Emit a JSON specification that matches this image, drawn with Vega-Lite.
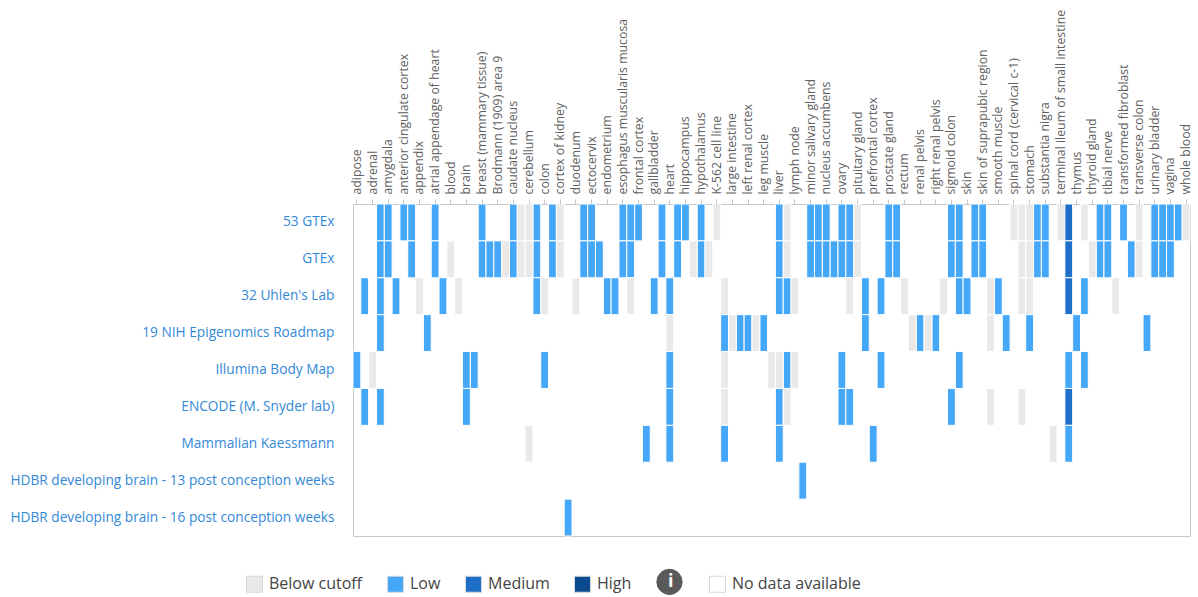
{
  "$schema": "https://vega.github.io/schema/vega-lite/v6.json",
  "autosize": {"type": "none"},
  "padding": {"left": 353, "top": 204, "right": 8, "bottom": 61},
  "width": 837,
  "height": 332,
  "background": "white",
  "config": {
    "font": "Open Sans",
    "view": {"stroke": "#c8c8c8", "strokeWidth": 1}
  },
  "data": {
    "values": [
      {"dataset": "53 GTEx", "col": 3, "level": "Low"},
      {"dataset": "53 GTEx", "col": 4, "level": "Low"},
      {"dataset": "53 GTEx", "col": 6, "level": "Low"},
      {"dataset": "53 GTEx", "col": 7, "level": "Low"},
      {"dataset": "53 GTEx", "col": 10, "level": "Low"},
      {"dataset": "53 GTEx", "col": 16, "level": "Low"},
      {"dataset": "53 GTEx", "col": 20, "level": "Low"},
      {"dataset": "53 GTEx", "col": 23, "level": "Low"},
      {"dataset": "53 GTEx", "col": 25, "level": "Low"},
      {"dataset": "53 GTEx", "col": 29, "level": "Low"},
      {"dataset": "53 GTEx", "col": 30, "level": "Low"},
      {"dataset": "53 GTEx", "col": 34, "level": "Low"},
      {"dataset": "53 GTEx", "col": 35, "level": "Low"},
      {"dataset": "53 GTEx", "col": 36, "level": "Low"},
      {"dataset": "53 GTEx", "col": 39, "level": "Low"},
      {"dataset": "53 GTEx", "col": 41, "level": "Low"},
      {"dataset": "53 GTEx", "col": 42, "level": "Low"},
      {"dataset": "53 GTEx", "col": 44, "level": "Low"},
      {"dataset": "53 GTEx", "col": 54, "level": "Low"},
      {"dataset": "53 GTEx", "col": 58, "level": "Low"},
      {"dataset": "53 GTEx", "col": 59, "level": "Low"},
      {"dataset": "53 GTEx", "col": 60, "level": "Low"},
      {"dataset": "53 GTEx", "col": 62, "level": "Low"},
      {"dataset": "53 GTEx", "col": 63, "level": "Low"},
      {"dataset": "53 GTEx", "col": 68, "level": "Low"},
      {"dataset": "53 GTEx", "col": 69, "level": "Low"},
      {"dataset": "53 GTEx", "col": 76, "level": "Low"},
      {"dataset": "53 GTEx", "col": 77, "level": "Low"},
      {"dataset": "53 GTEx", "col": 79, "level": "Low"},
      {"dataset": "53 GTEx", "col": 80, "level": "Low"},
      {"dataset": "53 GTEx", "col": 87, "level": "Low"},
      {"dataset": "53 GTEx", "col": 88, "level": "Low"},
      {"dataset": "53 GTEx", "col": 95, "level": "Low"},
      {"dataset": "53 GTEx", "col": 96, "level": "Low"},
      {"dataset": "53 GTEx", "col": 98, "level": "Low"},
      {"dataset": "53 GTEx", "col": 102, "level": "Low"},
      {"dataset": "53 GTEx", "col": 103, "level": "Low"},
      {"dataset": "53 GTEx", "col": 104, "level": "Low"},
      {"dataset": "53 GTEx", "col": 105, "level": "Low"},
      {"dataset": "53 GTEx", "col": 21, "level": "Below cutoff"},
      {"dataset": "53 GTEx", "col": 22, "level": "Below cutoff"},
      {"dataset": "53 GTEx", "col": 26, "level": "Below cutoff"},
      {"dataset": "53 GTEx", "col": 46, "level": "Below cutoff"},
      {"dataset": "53 GTEx", "col": 55, "level": "Below cutoff"},
      {"dataset": "53 GTEx", "col": 64, "level": "Below cutoff"},
      {"dataset": "53 GTEx", "col": 84, "level": "Below cutoff"},
      {"dataset": "53 GTEx", "col": 85, "level": "Below cutoff"},
      {"dataset": "53 GTEx", "col": 86, "level": "Below cutoff"},
      {"dataset": "53 GTEx", "col": 90, "level": "Below cutoff"},
      {"dataset": "53 GTEx", "col": 93, "level": "Below cutoff"},
      {"dataset": "53 GTEx", "col": 100, "level": "Below cutoff"},
      {"dataset": "53 GTEx", "col": 106, "level": "Below cutoff"},
      {"dataset": "53 GTEx", "col": 91, "level": "Medium"},

      {"dataset": "GTEx", "col": 3, "level": "Low"},
      {"dataset": "GTEx", "col": 4, "level": "Low"},
      {"dataset": "GTEx", "col": 7, "level": "Low"},
      {"dataset": "GTEx", "col": 10, "level": "Low"},
      {"dataset": "GTEx", "col": 16, "level": "Low"},
      {"dataset": "GTEx", "col": 17, "level": "Low"},
      {"dataset": "GTEx", "col": 18, "level": "Low"},
      {"dataset": "GTEx", "col": 20, "level": "Low"},
      {"dataset": "GTEx", "col": 23, "level": "Low"},
      {"dataset": "GTEx", "col": 25, "level": "Low"},
      {"dataset": "GTEx", "col": 29, "level": "Low"},
      {"dataset": "GTEx", "col": 30, "level": "Low"},
      {"dataset": "GTEx", "col": 31, "level": "Low"},
      {"dataset": "GTEx", "col": 34, "level": "Low"},
      {"dataset": "GTEx", "col": 35, "level": "Low"},
      {"dataset": "GTEx", "col": 39, "level": "Low"},
      {"dataset": "GTEx", "col": 41, "level": "Low"},
      {"dataset": "GTEx", "col": 44, "level": "Low"},
      {"dataset": "GTEx", "col": 54, "level": "Low"},
      {"dataset": "GTEx", "col": 58, "level": "Low"},
      {"dataset": "GTEx", "col": 59, "level": "Low"},
      {"dataset": "GTEx", "col": 60, "level": "Low"},
      {"dataset": "GTEx", "col": 61, "level": "Low"},
      {"dataset": "GTEx", "col": 62, "level": "Low"},
      {"dataset": "GTEx", "col": 63, "level": "Low"},
      {"dataset": "GTEx", "col": 68, "level": "Low"},
      {"dataset": "GTEx", "col": 69, "level": "Low"},
      {"dataset": "GTEx", "col": 76, "level": "Low"},
      {"dataset": "GTEx", "col": 77, "level": "Low"},
      {"dataset": "GTEx", "col": 79, "level": "Low"},
      {"dataset": "GTEx", "col": 80, "level": "Low"},
      {"dataset": "GTEx", "col": 87, "level": "Low"},
      {"dataset": "GTEx", "col": 88, "level": "Low"},
      {"dataset": "GTEx", "col": 95, "level": "Low"},
      {"dataset": "GTEx", "col": 96, "level": "Low"},
      {"dataset": "GTEx", "col": 99, "level": "Low"},
      {"dataset": "GTEx", "col": 102, "level": "Low"},
      {"dataset": "GTEx", "col": 103, "level": "Low"},
      {"dataset": "GTEx", "col": 104, "level": "Low"},
      {"dataset": "GTEx", "col": 12, "level": "Below cutoff"},
      {"dataset": "GTEx", "col": 19, "level": "Below cutoff"},
      {"dataset": "GTEx", "col": 21, "level": "Below cutoff"},
      {"dataset": "GTEx", "col": 22, "level": "Below cutoff"},
      {"dataset": "GTEx", "col": 26, "level": "Below cutoff"},
      {"dataset": "GTEx", "col": 43, "level": "Below cutoff"},
      {"dataset": "GTEx", "col": 45, "level": "Below cutoff"},
      {"dataset": "GTEx", "col": 55, "level": "Below cutoff"},
      {"dataset": "GTEx", "col": 64, "level": "Below cutoff"},
      {"dataset": "GTEx", "col": 85, "level": "Below cutoff"},
      {"dataset": "GTEx", "col": 86, "level": "Below cutoff"},
      {"dataset": "GTEx", "col": 94, "level": "Below cutoff"},
      {"dataset": "GTEx", "col": 100, "level": "Below cutoff"},
      {"dataset": "GTEx", "col": 91, "level": "Medium"},

      {"dataset": "32 Uhlen's Lab", "col": 1, "level": "Low"},
      {"dataset": "32 Uhlen's Lab", "col": 3, "level": "Low"},
      {"dataset": "32 Uhlen's Lab", "col": 5, "level": "Low"},
      {"dataset": "32 Uhlen's Lab", "col": 11, "level": "Low"},
      {"dataset": "32 Uhlen's Lab", "col": 23, "level": "Low"},
      {"dataset": "32 Uhlen's Lab", "col": 32, "level": "Low"},
      {"dataset": "32 Uhlen's Lab", "col": 33, "level": "Low"},
      {"dataset": "32 Uhlen's Lab", "col": 38, "level": "Low"},
      {"dataset": "32 Uhlen's Lab", "col": 40, "level": "Low"},
      {"dataset": "32 Uhlen's Lab", "col": 54, "level": "Low"},
      {"dataset": "32 Uhlen's Lab", "col": 55, "level": "Low"},
      {"dataset": "32 Uhlen's Lab", "col": 65, "level": "Low"},
      {"dataset": "32 Uhlen's Lab", "col": 67, "level": "Low"},
      {"dataset": "32 Uhlen's Lab", "col": 77, "level": "Low"},
      {"dataset": "32 Uhlen's Lab", "col": 78, "level": "Low"},
      {"dataset": "32 Uhlen's Lab", "col": 82, "level": "Low"},
      {"dataset": "32 Uhlen's Lab", "col": 93, "level": "Low"},
      {"dataset": "32 Uhlen's Lab", "col": 8, "level": "Below cutoff"},
      {"dataset": "32 Uhlen's Lab", "col": 13, "level": "Below cutoff"},
      {"dataset": "32 Uhlen's Lab", "col": 24, "level": "Below cutoff"},
      {"dataset": "32 Uhlen's Lab", "col": 28, "level": "Below cutoff"},
      {"dataset": "32 Uhlen's Lab", "col": 35, "level": "Below cutoff"},
      {"dataset": "32 Uhlen's Lab", "col": 47, "level": "Below cutoff"},
      {"dataset": "32 Uhlen's Lab", "col": 56, "level": "Below cutoff"},
      {"dataset": "32 Uhlen's Lab", "col": 63, "level": "Below cutoff"},
      {"dataset": "32 Uhlen's Lab", "col": 70, "level": "Below cutoff"},
      {"dataset": "32 Uhlen's Lab", "col": 75, "level": "Below cutoff"},
      {"dataset": "32 Uhlen's Lab", "col": 81, "level": "Below cutoff"},
      {"dataset": "32 Uhlen's Lab", "col": 85, "level": "Below cutoff"},
      {"dataset": "32 Uhlen's Lab", "col": 86, "level": "Below cutoff"},
      {"dataset": "32 Uhlen's Lab", "col": 97, "level": "Below cutoff"},
      {"dataset": "32 Uhlen's Lab", "col": 91, "level": "Medium"},

      {"dataset": "19 NIH Epigenomics Roadmap", "col": 3, "level": "Low"},
      {"dataset": "19 NIH Epigenomics Roadmap", "col": 9, "level": "Low"},
      {"dataset": "19 NIH Epigenomics Roadmap", "col": 47, "level": "Low"},
      {"dataset": "19 NIH Epigenomics Roadmap", "col": 49, "level": "Low"},
      {"dataset": "19 NIH Epigenomics Roadmap", "col": 50, "level": "Low"},
      {"dataset": "19 NIH Epigenomics Roadmap", "col": 52, "level": "Low"},
      {"dataset": "19 NIH Epigenomics Roadmap", "col": 65, "level": "Low"},
      {"dataset": "19 NIH Epigenomics Roadmap", "col": 72, "level": "Low"},
      {"dataset": "19 NIH Epigenomics Roadmap", "col": 74, "level": "Low"},
      {"dataset": "19 NIH Epigenomics Roadmap", "col": 83, "level": "Low"},
      {"dataset": "19 NIH Epigenomics Roadmap", "col": 86, "level": "Low"},
      {"dataset": "19 NIH Epigenomics Roadmap", "col": 92, "level": "Low"},
      {"dataset": "19 NIH Epigenomics Roadmap", "col": 101, "level": "Low"},
      {"dataset": "19 NIH Epigenomics Roadmap", "col": 40, "level": "Below cutoff"},
      {"dataset": "19 NIH Epigenomics Roadmap", "col": 48, "level": "Below cutoff"},
      {"dataset": "19 NIH Epigenomics Roadmap", "col": 51, "level": "Below cutoff"},
      {"dataset": "19 NIH Epigenomics Roadmap", "col": 71, "level": "Below cutoff"},
      {"dataset": "19 NIH Epigenomics Roadmap", "col": 73, "level": "Below cutoff"},
      {"dataset": "19 NIH Epigenomics Roadmap", "col": 81, "level": "Below cutoff"},

      {"dataset": "Illumina Body Map", "col": 0, "level": "Low"},
      {"dataset": "Illumina Body Map", "col": 14, "level": "Low"},
      {"dataset": "Illumina Body Map", "col": 15, "level": "Low"},
      {"dataset": "Illumina Body Map", "col": 24, "level": "Low"},
      {"dataset": "Illumina Body Map", "col": 40, "level": "Low"},
      {"dataset": "Illumina Body Map", "col": 55, "level": "Low"},
      {"dataset": "Illumina Body Map", "col": 62, "level": "Low"},
      {"dataset": "Illumina Body Map", "col": 67, "level": "Low"},
      {"dataset": "Illumina Body Map", "col": 77, "level": "Low"},
      {"dataset": "Illumina Body Map", "col": 91, "level": "Low"},
      {"dataset": "Illumina Body Map", "col": 93, "level": "Low"},
      {"dataset": "Illumina Body Map", "col": 2, "level": "Below cutoff"},
      {"dataset": "Illumina Body Map", "col": 47, "level": "Below cutoff"},
      {"dataset": "Illumina Body Map", "col": 53, "level": "Below cutoff"},
      {"dataset": "Illumina Body Map", "col": 54, "level": "Below cutoff"},
      {"dataset": "Illumina Body Map", "col": 56, "level": "Below cutoff"},

      {"dataset": "ENCODE (M. Snyder lab)", "col": 1, "level": "Low"},
      {"dataset": "ENCODE (M. Snyder lab)", "col": 3, "level": "Low"},
      {"dataset": "ENCODE (M. Snyder lab)", "col": 14, "level": "Low"},
      {"dataset": "ENCODE (M. Snyder lab)", "col": 40, "level": "Low"},
      {"dataset": "ENCODE (M. Snyder lab)", "col": 54, "level": "Low"},
      {"dataset": "ENCODE (M. Snyder lab)", "col": 62, "level": "Low"},
      {"dataset": "ENCODE (M. Snyder lab)", "col": 63, "level": "Low"},
      {"dataset": "ENCODE (M. Snyder lab)", "col": 76, "level": "Low"},
      {"dataset": "ENCODE (M. Snyder lab)", "col": 47, "level": "Below cutoff"},
      {"dataset": "ENCODE (M. Snyder lab)", "col": 55, "level": "Below cutoff"},
      {"dataset": "ENCODE (M. Snyder lab)", "col": 81, "level": "Below cutoff"},
      {"dataset": "ENCODE (M. Snyder lab)", "col": 85, "level": "Below cutoff"},
      {"dataset": "ENCODE (M. Snyder lab)", "col": 91, "level": "Medium"},

      {"dataset": "Mammalian Kaessmann", "col": 37, "level": "Low"},
      {"dataset": "Mammalian Kaessmann", "col": 40, "level": "Low"},
      {"dataset": "Mammalian Kaessmann", "col": 47, "level": "Low"},
      {"dataset": "Mammalian Kaessmann", "col": 54, "level": "Low"},
      {"dataset": "Mammalian Kaessmann", "col": 66, "level": "Low"},
      {"dataset": "Mammalian Kaessmann", "col": 91, "level": "Low"},
      {"dataset": "Mammalian Kaessmann", "col": 22, "level": "Below cutoff"},
      {"dataset": "Mammalian Kaessmann", "col": 89, "level": "Below cutoff"},

      {"dataset": "HDBR developing brain - 13 post conception weeks", "col": 57, "level": "Low"},
      {"dataset": "HDBR developing brain - 16 post conception weeks", "col": 27, "level": "Low"}
    ]
  },
  "mark": {"type": "rect", "stroke": "white", "strokeWidth": 1},
  "encoding": {
    "x": {
      "field": "col",
      "type": "ordinal",
      "scale": {
        "domain": [0,1,2,3,4,5,6,7,8,9,10,11,12,13,14,15,16,17,18,19,20,21,22,23,24,25,26,27,28,29,30,31,32,33,34,35,36,37,38,39,40,41,42,43,44,45,46,47,48,49,50,51,52,53,54,55,56,57,58,59,60,61,62,63,64,65,66,67,68,69,70,71,72,73,74,75,76,77,78,79,80,81,82,83,84,85,86,87,88,89,90,91,92,93,94,95,96,97,98,99,100,101,102,103,104,105,106],
        "paddingInner": 0,
        "paddingOuter": 0
      },
      "axis": {
        "orient": "top",
        "title": null,
        "domain": false,
        "values": [0,2,4,6,8,10,12,14,16,18,20,22,24,26,28,30,32,34,36,38,40,42,44,46,48,50,52,54,56,58,60,62,64,66,68,70,72,74,76,78,80,82,84,86,88,90,92,94,96,98,100,102,104,106],
        "labelExpr": "['adipose','adrenal','amygdala','anterior cingulate cortex','appendix','atrial appendage of heart','blood','brain','breast (mammary tissue)','Brodmann (1909) area 9','caudate nucleus','cerebellum','colon','cortex of kidney','duodenum','ectocervix','endometrium','esophagus muscularis mucosa','frontal cortex','gallbladder','heart','hippocampus','hypothalamus','K-562 cell line','large intestine','left renal cortex','leg muscle','liver','lymph node','minor salivary gland','nucleus accumbens','ovary','pituitary gland','prefrontal cortex','prostate gland','rectum','renal pelvis','right renal pelvis','sigmoid colon','skin','skin of suprapubic region','smooth muscle','spinal cord (cervical c-1)','stomach','substantia nigra','terminal ileum of small intestine','thymus','thyroid gland','tibial nerve','transformed fibroblast','transverse colon','urinary bladder','vagina','whole blood'][datum.value / 2]",
        "labelAngle": -90,
        "labelAlign": "left",
        "labelBaseline": "middle",
        "labelFontSize": 12.3,
        "labelColor": "#606060",
        "labelPadding": 5,
        "labelOverlap": false,
        "labelLimit": 300,
        "tickColor": "#c8c8c8",
        "tickSize": 5
      }
    },
    "y": {
      "field": "dataset",
      "type": "nominal",
      "sort": ["53 GTEx", "GTEx", "32 Uhlen's Lab", "19 NIH Epigenomics Roadmap", "Illumina Body Map", "ENCODE (M. Snyder lab)", "Mammalian Kaessmann", "HDBR developing brain - 13 post conception weeks", "HDBR developing brain - 16 post conception weeks"],
      "scale": {"paddingInner": 0, "paddingOuter": 0},
      "axis": {
        "title": null,
        "domain": false,
        "ticks": false,
        "labelFontSize": 13.7,
        "labelColor": "#3389d8",
        "labelPadding": 19,
        "labelLimit": 400
      }
    },
    "color": {
      "field": "level",
      "type": "nominal",
      "scale": {
        "domain": ["Below cutoff", "Low", "Medium", "High", "info", "No data available"],
        "range": ["#e9e9e9", "#45a7f7", "#1e6fc8", "#0b4a8e", "#5a5a5a", "#ffffff"]
      },
      "legend": {
        "title": null,
        "orient": "none",
        "legendX": -107,
        "legendY": 369,
        "direction": "horizontal",
        "symbolType": "square",
        "symbolSize": 256,
        "symbolStrokeColor": "#d8d8d8",
        "symbolStrokeWidth": 1,
        "symbolOpacity": 1,
        "labelFontSize": 16,
        "labelColor": "#444444",
        "labelOffset": 6,
        "columnPadding": 22,
        "labelExpr": "datum.value === 'info' ? 'i' : datum.label",
        "encode": {
          "symbols": {
            "update": {
              "shape": {"signal": "datum.value === 'info' ? 'circle' : 'square'"},
              "size": {"signal": "datum.value === 'info' ? 640 : 256"},
              "stroke": {"signal": "datum.value === 'info' ? '#5a5a5a' : '#d8d8d8'"},
              "dx": {"signal": "datum.value === 'info' ? 6 : 0"}
            }
          },
          "labels": {
            "update": {
              "fill": {"signal": "datum.value === 'info' ? '#ffffff' : '#444444'"},
              "fontWeight": {"signal": "datum.value === 'info' ? 'bold' : 'normal'"},
              "fontSize": {"signal": "datum.value === 'info' ? 18 : 16"},
              "dx": {"signal": "datum.value === 'info' ? -16 : 0"}
            }
          }
        }
      }
    }
  }
}
